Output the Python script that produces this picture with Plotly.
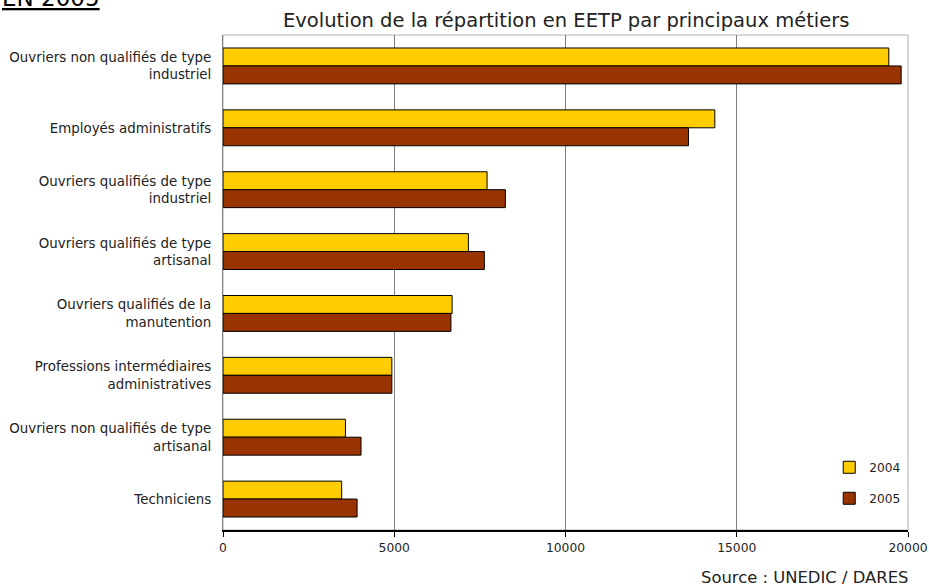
import plotly.graph_objects as go

categories = [
    "Ouvriers non qualifiés de type<br>industriel",
    "Employés administratifs",
    "Ouvriers qualifiés de type<br>industriel",
    "Ouvriers qualifiés de type<br>artisanal",
    "Ouvriers qualifiés de la<br>manutention",
    "Professions intermédiaires<br>administratives",
    "Ouvriers non qualifiés de type<br>artisanal",
    "Techniciens",
]
values_2004 = [19440, 14360, 7710, 7165, 6690, 4930, 3575, 3465]
values_2005 = [19800, 13590, 8245, 7630, 6655, 4930, 4030, 3915]
series_names = ["2004", "2005"]
series_colors = ["#FFCC00", "#993300"]
x_ticks = [0, 5000, 10000, 15000, 20000]

FONT = "DejaVu Sans"

fig = go.Figure()
for name, vals, col in zip(series_names, [values_2004, values_2005], series_colors):
    fig.add_trace(go.Bar(
        y=categories, x=vals, name=name, orientation="h",
        marker=dict(color=col, line=dict(color="#000000", width=1)),
        legendgroup=name,
    ))

fig.update_layout(
    width=929, height=588,
    margin=dict(l=223, r=21, t=35, b=58, autoexpand=False),
    paper_bgcolor="white", plot_bgcolor="white",
    barmode="group", bargap=0.42, bargroupgap=0,
    font=dict(family=FONT, size=12, color="#222222"),
    showlegend=True,
    legend=dict(x=0.885, y=0.156, xanchor="left", yanchor="top",
                bgcolor="rgba(0,0,0,0)", font=dict(size=12.2),
                tracegroupgap=12, itemwidth=30),
    xaxis=dict(range=[0, 20000], tickvals=x_ticks, ticktext=[str(t) for t in x_ticks],
               showgrid=True, gridcolor="#808080", gridwidth=1,
               showline=True, linecolor="#000000", linewidth=1.5,
               ticks="outside", ticklen=5, tickcolor="#000000", automargin=False,
               zeroline=False, fixedrange=True, tickfont=dict(size=12.3)),
    yaxis=dict(autorange="reversed", showline=True, linecolor="#808080", linewidth=1,
               ticks="", ticklabelstandoff=8, showgrid=False, automargin=False,
               tickfont=dict(size=13.4)),
    shapes=[dict(type="rect", xref="paper", yref="paper", x0=0, x1=1, y0=0, y1=1,
                 line=dict(color="#B0B0B0", width=1), layer="below")],
    annotations=[
        dict(text="Evolution de la répartition en EETP par principaux métiers",
             xref="paper", yref="paper", x=0.5, y=1, yshift=15, xanchor="center", yanchor="middle",
             showarrow=False, font=dict(size=19.5, color="#222222")),
        dict(text="Source : UNEDIC / DARES", xref="paper", yref="paper",
             x=1.0, xshift=2, y=0, yshift=-47, xanchor="right", yanchor="middle",
             showarrow=False, font=dict(size=16.4, color="#222222")),
        dict(text="<u>EN 2005</u>", xref="paper", yref="paper",
             x=0, xshift=-121, y=1, yshift=22, xanchor="right", yanchor="bottom",
             showarrow=False, font=dict(size=23, color="#000000")),
    ],
)

fig.write_html("out.html", config={"displayModeBar": False},
               post_script="document.body.style.margin='0';")
